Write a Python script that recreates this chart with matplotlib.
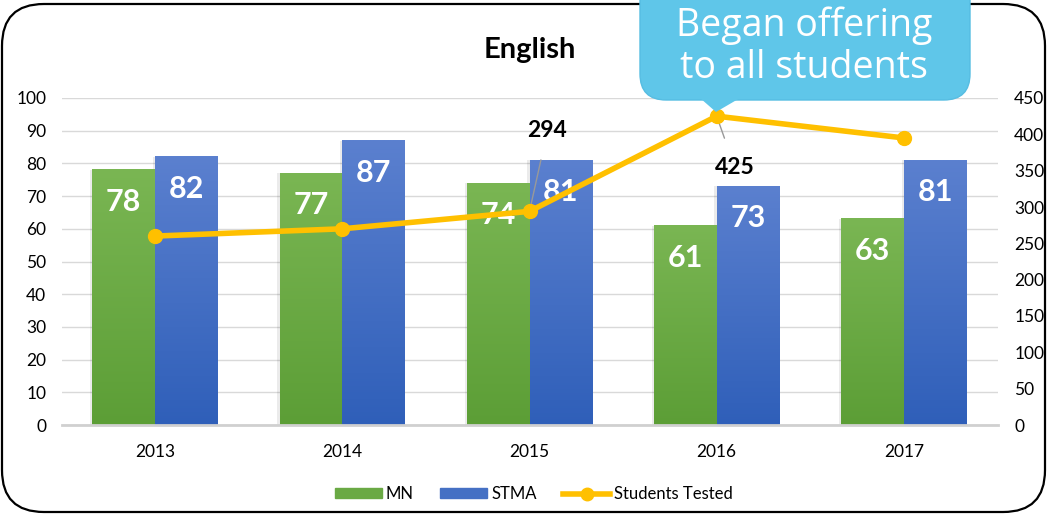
import numpy as np
import matplotlib
matplotlib.use("Agg")
import matplotlib.pyplot as plt
from matplotlib.patches import FancyBboxPatch, Patch, Polygon
from matplotlib.lines import Line2D
from matplotlib.colors import LinearSegmentedColormap

plt.rcParams['font.family'] = ['Lato', 'DejaVu Sans']

years = ['2013', '2014', '2015', '2016', '2017']
mn = [78, 77, 74, 61, 63]
stma = [82, 87, 81, 73, 81]
tested = [260, 270, 294, 425, 395]
tested_labels = {2: '294', 3: '425'}

W, H = 1047, 524
fig = plt.figure(figsize=(W / 100, H / 100), dpi=100)

# outer rounded frame
frame = FancyBboxPatch((2 / W, 12 / H), 1043 / W, 508 / H,
                       boxstyle="round,pad=0,rounding_size=0.04",
                       transform=fig.transFigure, fill=False,
                       edgecolor='black', lw=1.6, mutation_aspect=W / H)
fig.patches.append(frame)

ax = fig.add_axes([61.5 / W, 1 - 425 / H, 936 / W, 327 / H])
ax2 = ax.twinx()

x = np.arange(len(years))
bw = 0.335

green = LinearSegmentedColormap.from_list('g', ['#5c9e36', '#7ab653'])
blue = LinearSegmentedColormap.from_list('b', ['#2f5fb9', '#5b80cf'])

grad = np.linspace(0, 1, 256).reshape(-1, 1)
for vals, off, cmap, base in [(mn, -bw / 2, green, '#6aa944'),
                              (stma, bw / 2, blue, '#4570c4')]:
    bars = ax.bar(x + off, vals, bw, color=base, zorder=2)
    for b in bars:
        x0, w, h = b.get_x(), b.get_width(), b.get_height()
        # soft shadow on the left
        ax.bar(x0 - 0.012, h, w, align='edge', color='#000000', alpha=0.08,
               zorder=1.5, lw=0)
        ax.imshow(grad, cmap=cmap, aspect='auto', origin='lower',
                  extent=(x0, x0 + w, 0, h), zorder=2.5)
        ax.annotate(f'{int(h)}', (x0 + w / 2, h), xytext=(0, -32),
                    textcoords='offset pixels', ha='center', va='center',
                    color='white', fontsize=22, fontweight='bold', zorder=4)

ax.set_xlim(-0.5, len(years) - 0.5)
ax.set_ylim(0, 100)
ax.set_yticks(range(0, 101, 10))
ax.set_xticks(x)
ax.set_xticklabels(years)
ax.grid(axis='y', color='#d9d9d9', lw=1, zorder=0)
ax.set_axisbelow(True)
for s in ['top', 'right', 'left']:
    ax.spines[s].set_visible(False)
ax.spines['bottom'].set_color('#d0d0d0')
ax.spines['bottom'].set_linewidth(2)
ax.tick_params(length=0, labelsize=12.5, colors='black')
ax.tick_params(axis='x', pad=14)
ax.tick_params(axis='y', pad=11)

ax2.set_ylim(0, 450)
ax2.set_yticks(range(0, 451, 50))
for s in ax2.spines.values():
    s.set_visible(False)
ax2.tick_params(length=0, labelsize=12.5, pad=12)
ax2.plot(x, tested, color='#ffc000', lw=4, marker='o', ms=10,
         solid_capstyle='round', zorder=5)
ax2.set_zorder(ax.get_zorder() + 1)
ax2.patch.set_visible(False)

offsets = {2: (18, 81), 3: (18, -51)}
for i, lab in tested_labels.items():
    ax2.annotate(lab, (x[i], tested[i]), xytext=offsets[i],
                 textcoords='offset pixels', ha='center', va='center',
                 fontsize=16.5, fontweight='bold', color='black',
                 arrowprops=dict(arrowstyle='-', color='#999999', lw=1,
                                 shrinkA=12, shrinkB=5))

fig.text(530 / W, 1 - 50 / H, 'English', ha='center', va='center',
         fontsize=21, fontweight='bold')

handles = [Patch(color='#6aa944'), Patch(color='#4570c4'),
           Line2D([], [], color='#ffc000', lw=4, marker='o', ms=9)]
fig.legend(handles, ['MN', 'STMA', 'Students Tested'], loc='center',
           bbox_to_anchor=(534 / W, 1 - 494 / H), ncol=3, frameon=False,
           fontsize=12, handlelength=2.8, handleheight=0.5,
           handletextpad=0.25, columnspacing=1.6)

# callout
box = FancyBboxPatch((640 / W, 1 - 100 / H), 330 / W, 130 / H,
                     boxstyle="round,pad=0,rounding_size=0.025",
                     transform=fig.transFigure, facecolor='#5fc6e9',
                     edgecolor='#56bde2', lw=1, mutation_aspect=W / H,
                     zorder=10)
fig.patches.append(box)
tri = Polygon([(700 / W, 1 - 98 / H), (740 / W, 1 - 98 / H),
               (716 / W, 1 - 112 / H)], closed=True, transform=fig.transFigure,
              facecolor='#5fc6e9', edgecolor='none', zorder=10)
fig.patches.append(tri)
fig.text(804 / W, 1 - 47 / H, 'Began offering\nto all students',
         ha='center', va='center', color='white', fontsize=27,
         family=['Open Sans', 'DejaVu Sans'], linespacing=1.15, zorder=11)

fig.savefig('out.png', dpi=100)
